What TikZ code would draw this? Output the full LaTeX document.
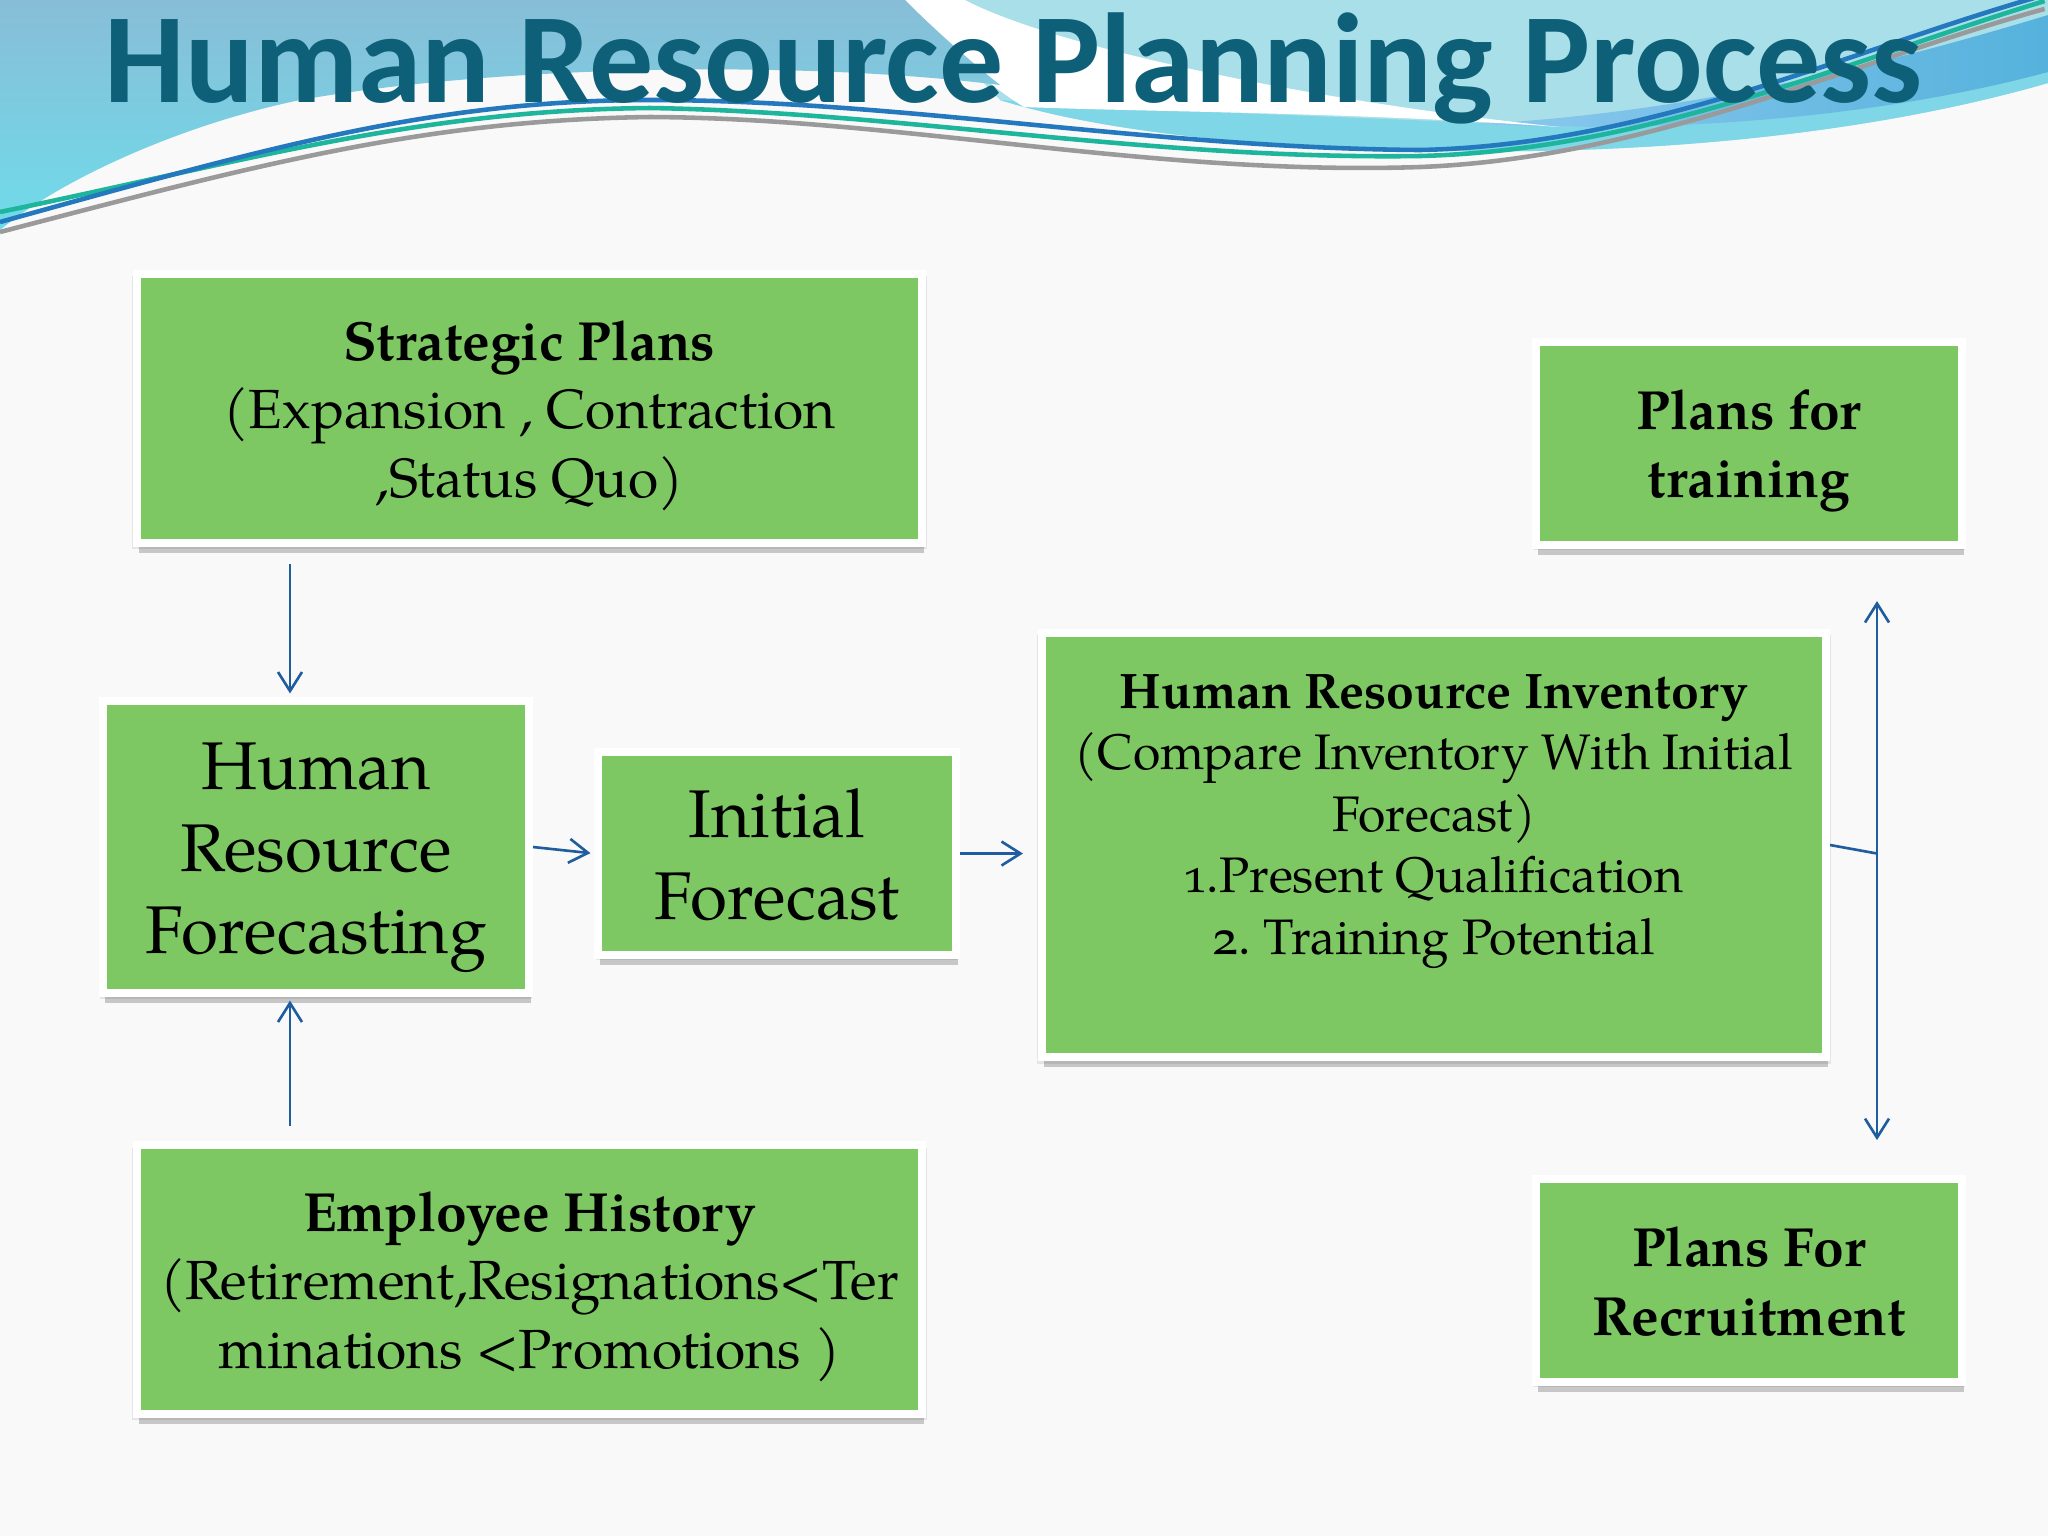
\documentclass[tikz,border=0pt]{standalone}
\usepackage{fontspec}
\setmainfont{TeX Gyre Pagella}
\newfontfamily\osfont[Numbers=OldStyle]{TeX Gyre Pagella}
\newfontfamily\titlefont{Carlito}
\usetikzlibrary{arrows.meta,shadows,positioning}

\definecolor{bgwhite}{HTML}{F9F9F9}
\definecolor{boxgreen}{HTML}{7DC863}
\definecolor{linkblue}{HTML}{1F5D9E}
\definecolor{titleteal}{HTML}{0E5F78}
\definecolor{hdrblue}{HTML}{88BDD7}
\definecolor{hdraqua}{HTML}{6FDCEA}
\definecolor{hdrlight}{HTML}{A8DFE8}
\definecolor{hdrcyan}{HTML}{7ED6E6}
\definecolor{hdrsky}{HTML}{8CC8EE}
\definecolor{hdrdeep}{HTML}{55B2DC}
\definecolor{hdrgreen}{HTML}{1DB59B}
\definecolor{hdrgray}{HTML}{9A9A9A}
\definecolor{hdrline}{HTML}{2378BE}

\newcommand\firstln{\rule{0pt}{1.05em}}
\newcommand\lastln{\rule[-0.32em]{0pt}{0.32em}}

\begin{document}
\begin{tikzpicture}[x=0.1mm,y=-0.1mm,>={Straight Barb[length=1.9mm,width=2.4mm]},shorten >=1pt,
	box/.style={fill=boxgreen,draw=white,line width=2.3pt,inner sep=0pt,align=center,
		general shadow={fill=black,opacity=0.08,shadow scale=1.012,shadow yshift=-0.4mm},
		general shadow={fill=black,opacity=0.2,shadow xshift=0.15mm,shadow yshift=-1.0mm}},
	midtxt/.style={font=\fontsize{15.7}{19.5}\selectfont},
	boldtxt/.style={font=\bfseries\fontsize{15.7}{19.5}\selectfont},
	bigtxt/.style={font=\fontsize{19.2}{23.4}\selectfont},
	link/.style={draw=linkblue,line width=0.75pt}]
	\useasboundingbox (0,0) rectangle (2048,1536);
	\fill[bgwhite] (0,0) rectangle (2048,1536);

	\fill[hdrlight] (905,0) -- (2048,0) -- (2048,83) .. controls (1850,140) and (1600,160) .. (1350,148) .. controls (1200,142) and (1080,125) .. (1000,100) -- cycle;
	\fill[hdrcyan] (1000,100) .. controls (1150,112) and (1400,118) .. (1560,127) .. controls (1750,120) and (1950,70) .. (2048,40) -- (2048,83) .. controls (1850,140) and (1600,160) .. (1350,148) .. controls (1200,142) and (1080,125) .. (1000,100) -- cycle;
	\shade[left color=hdrsky,right color=hdrdeep] (1480,124) .. controls (1700,112) and (1900,60) .. (2048,15) -- (2048,72) .. controls (1900,112) and (1700,135) .. (1480,124) -- cycle;
	\fill[white] (900,0) -- (965,0) .. controls (1050,45) and (1300,100) .. (1560,127) .. controls (1350,112) and (1150,112) .. (1024,107) .. controls (980,80) and (940,40) .. (900,0) -- cycle;
	\shade[top color=hdrblue,bottom color=hdraqua] (0,0) -- (905,0) .. controls (940,35) and (975,65) .. (1000,85) .. controls (800,60) and (500,65) .. (300,100) .. controls (180,125) and (60,180) .. (0,230) -- cycle;

	\draw[hdrgray,line width=1.3pt] (0,232) .. controls (250,167) and (420,120) .. (650,117) .. controls (900,118) and (1150,176) .. (1420,167) .. controls (1650,158) and (1850,62) .. (2048,8);
	\draw[hdrgreen,line width=1.3pt] (0,212) .. controls (250,160) and (420,110) .. (650,108) .. controls (900,112) and (1150,160) .. (1420,156) .. controls (1650,150) and (1850,60) .. (2048,0);
	\draw[hdrline,line width=1.3pt] (0,222) .. controls (260,150) and (430,100) .. (650,100) .. controls (900,100) and (1150,148) .. (1420,150) .. controls (1650,145) and (1850,50) .. (2048,-6);

	\node[anchor=base west,inner sep=0pt,text=titleteal,font=\titlefont\bfseries\fontsize{36.4}{36.4}\selectfont] (title) at (104,102) {Human Resource Planning Process};

	\node[box,midtxt,minimum width=78.5mm,minimum height=26.9mm] (strat) at (529.5,408.5) {\firstln\textbf{Strategic Plans}\\(Expansion , Contraction\\,Status Quo)\lastln};
	\node[box,bigtxt,minimum width=42.6mm,minimum height=29.2mm] (hrf) at (316,847) {\firstln Human\\Resource\\Forecasting\lastln};
	\node[box,bigtxt,minimum width=35.8mm,minimum height=20.3mm] (init) at (777,853.5) {\firstln Initial\\Forecast\lastln};
	\node[box,font=\osfont\fontsize{14.2}{17.5}\selectfont,minimum width=78.4mm,minimum height=42.4mm] (inv) at (1434,845)
		{\parbox[c][40mm][t]{76mm}{\centering\vspace*{2.9mm}\textbf{Human Resource Inventory}\\(Compare Inventory With Initial\\Forecast)\\1.Present Qualification\\2.\ Training Potential}};
	\node[box,boldtxt,minimum width=42.6mm,minimum height=20.3mm] (train) at (1749,443.5) {\firstln Plans for\\training\lastln};
	\node[box,midtxt,minimum width=78.5mm,minimum height=26.9mm,below=59.4mm of strat] (hist) {\firstln\textbf{Employee History}\\(Retirement,Resignations<Ter\\minations <Promotions )\lastln};
	\node[box,boldtxt,minimum width=42.6mm,minimum height=20.3mm,below=62.6mm of train] (recr) {\firstln Plans For\\Recruitment\lastln};

	\coordinate (split) at ([xshift=12.8mm]train.south |- init.east);

	\path[->] ([xshift=-2.6mm]hrf.north |- strat.south) edge[link,shorten <=1.7mm] ([xshift=-2.6mm]hrf.north)
	([xshift=-2.6mm]hrf.south |- hist.north) edge[link,shorten <=1.5mm] ([xshift=-2.6mm]hrf.south)
	(hrf.east) edge[link] (init.west)
	(init.east) edge[link,shorten >=1.5mm] (inv.west |- init.east)
	;
	\draw[link,shorten >=0pt] (inv.east) -- (split);
	\draw[link,<->,shorten <=5.2mm,shorten >=3.5mm] ([xshift=12.8mm]train.south) -- ([xshift=12.8mm]recr.north);
\end{tikzpicture}
\end{document}
